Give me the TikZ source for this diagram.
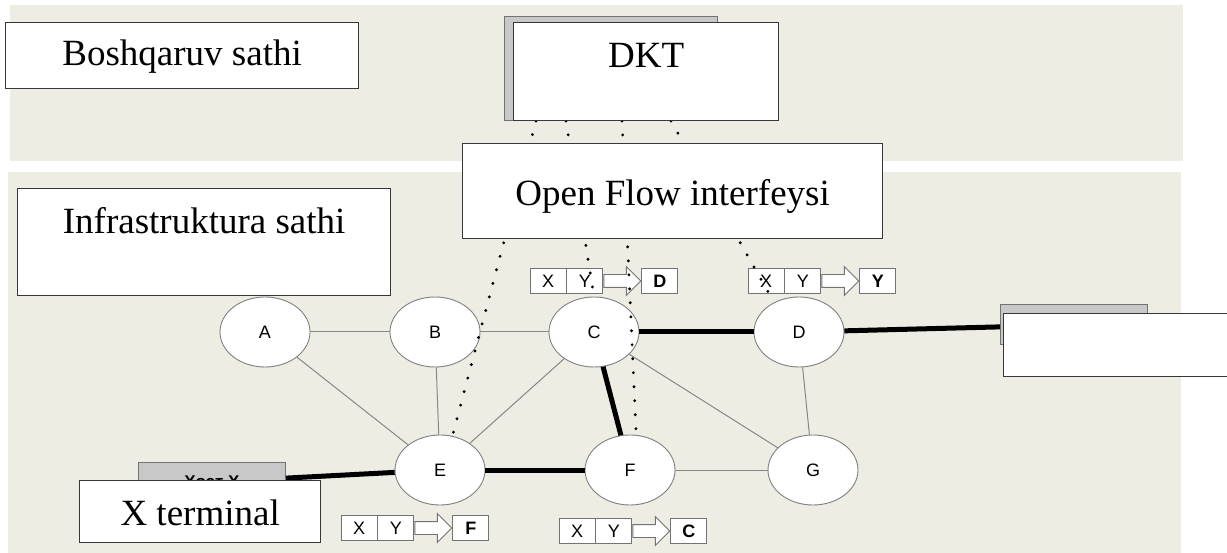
\documentclass[tikz,border=0pt]{standalone}
\usepackage{fontspec}
\setmainfont{Liberation Serif}
\newfontfamily\arialfont{Liberation Sans}
\usetikzlibrary{positioning,shapes.geometric,shapes.arrows}
\definecolor{bandbeige}{RGB}{237,237,227}
\definecolor{edgegray}{RGB}{135,135,135}
\definecolor{boxline}{RGB}{55,55,55}
\definecolor{hostgray}{RGB}{200,200,200}

\begin{document}
\begin{tikzpicture}[
  x=1pt, y=-1pt,
  band/.style={fill=bandbeige, inner sep=0pt, anchor=north west},
  lvl/.style={draw=boxline, fill=white, line width=1.3pt, inner sep=0pt, anchor=north west, font=\fontsize{37}{40}\selectfont},
  sw/.style={ellipse, draw=gray, fill=white, line width=0.9pt, minimum width=90pt, minimum height=70pt, inner sep=0pt, font=\arialfont\fontsize{18}{20}\selectfont},
  cell/.style={draw=gray!90!black, fill=white, line width=0.9pt, minimum width=36pt, minimum height=25pt, inner sep=0pt, font=\arialfont\fontsize{18}{20}\selectfont},
  flowarr/.style={single arrow, draw=gray!90!black, fill=white, line width=0.9pt, minimum height=37pt, inner sep=6pt, single arrow head extend=8pt, single arrow head indent=0pt},
  host/.style={draw=gray!90!black, fill=hostgray, line width=1pt, inner sep=0pt, font=\arialfont\bfseries\fontsize{17}{19}\selectfont},
  lnk/.style={draw=edgegray, line width=1pt},
  route/.style={line width=5pt},
  ctl/.style={line width=3.2pt, line cap=round, dash pattern=on 0pt off 14pt},
]
\useasboundingbox (0,0) rectangle (1227,553);
\fill[white] (0,0) rectangle (1227,553);

% Levels
\node[band, minimum width=1173pt, minimum height=156pt] (ctrlband) at (10,5) {};
\node[band, minimum width=1173pt, minimum height=381pt] (infraband) at (8,172) {};

% Switches
\node[sw] (A) at (265,332) {A};
\node[sw] (B) at (435,332) {B};
\node[sw] (C) at (594,332) {C};
\node[sw] (D) at (799,332) {D};
\node[sw] (E) at (440,470) {E};
\node[sw] (F) at (630,470) {F};
\node[sw] (G) at (813,470) {G};

% Links
\draw[lnk] (A) -- (B);
\draw[lnk] (A) -- (E);
\draw[lnk] (B) -- (E);
\draw[lnk] (B) -- (C);
\draw[lnk] (C) -- (E);
\draw[lnk] (C) -- (G);
\draw[lnk] (D) -- (G);
\draw[lnk] (F) -- (G);

% Route X -> Y
\node[host, minimum width=147pt, minimum height=40pt] (hostx) at (212,482) {Хост X};
\node[host, minimum width=147pt, minimum height=40pt] (hosty) at (1074,325) {Хост Y};
\draw[route] (E) -- (hostx);
\draw[route] (E) -- (F);
\draw[route] (F) -- (C);
\draw[route] (C) -- (D);
\draw[route] (D) -- (hosty);

% Flow tables
\node[cell] (cx) at (548,281) {X};
\node[cell, right=0pt of cx] (cy) {Y};
\node[flowarr, right=0pt of cy] (ca) {};
\node[cell, right=0pt of ca] (cd) {\textbf{D}};

\node[cell] (dx) at (766,281) {X};
\node[cell, right=0pt of dx] (dy) {Y};
\node[flowarr, right=0pt of dy] (da) {};
\node[cell, right=0pt of da] (dd) {\textbf{Y}};

\node[cell] (ex) at (359,528) {X};
\node[cell, right=0pt of ex] (ey) {Y};
\node[flowarr, right=0pt of ey] (ea) {};
\node[cell, right=0pt of ea] (ed) {\textbf{F}};

\node[cell] (fx) at (577,531) {X};
\node[cell, right=0pt of fx] (fy) {Y};
\node[flowarr, right=0pt of fy] (fa) {};
\node[cell, right=0pt of fa] (fd) {\textbf{C}};

% Control channels
\coordinate (d1) at (536,121);
\coordinate (d2) at (566,121);
\coordinate (d3) at (622,121);
\coordinate (d4) at (671,121);
\draw[ctl] (d1) -- (E.70);
\draw[ctl] (d2) -- (C.north);
\draw[ctl] (d3) -- (F.80);
\draw[ctl] (d4) -- (D.130);

% Controller and interface
\node[host, minimum width=213pt, minimum height=104pt, anchor=north west] (dktshadow) at (504,16) {};
\node[lvl, minimum width=265pt, text height=45pt, text depth=53pt] (dkt) at (513,22) {DKT};
\node[lvl, minimum width=420pt, text height=62pt, text depth=33pt] (ofif) at (462,143) {Open Flow interfeysi};

% Level labels
\node[lvl, minimum width=353pt, text height=43pt, text depth=23pt] (ctrl) at (5,22) {Boshqaruv sathi};
\node[lvl, minimum width=373pt, text height=45pt, text depth=62pt] (infra) at (17,188) {Infrastruktura sathi};

% Terminals
\node[lvl, minimum width=241pt, text height=45pt, text depth=17pt] (xterm) at (79,480) {X terminal};
\node[lvl, minimum width=240pt, minimum height=63pt] (yterm) at (1003,313) {};
\end{tikzpicture}
\end{document}
